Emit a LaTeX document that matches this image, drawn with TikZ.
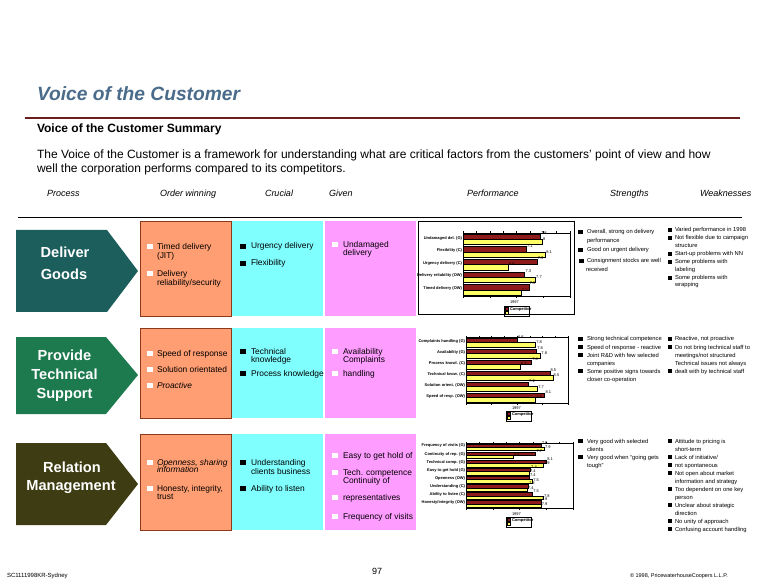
\documentclass[tikz,border=0pt]{standalone}
\usepackage{fontspec}
\setmainfont{Liberation Sans}
\definecolor{titleblue}{HTML}{4A6B8A}
\definecolor{rulered}{HTML}{6B1E1E}
\definecolor{orbox}{HTML}{FF9E72}
\definecolor{cybox}{HTML}{80FFFF}
\definecolor{pkbox}{HTML}{FF9CFF}
\definecolor{orline}{HTML}{8A3A1A}
\definecolor{pteal}{HTML}{1B5E5C}
\definecolor{pgreen}{HTML}{1C7A4E}
\definecolor{polive}{HTML}{3E3C12}
\definecolor{barred}{HTML}{8E1B1B}
\definecolor{baryel}{HTML}{FFFF66}
\newcommand\fsz[1]{\fontsize{#1}{#1}\selectfont}
\tikzset{
  every node/.style={inner sep=0pt, outer sep=0pt},
  tx/.style={anchor=base west, font=\fsz{8.4}},
  txi/.style={anchor=base west, font=\fsz{8.4}\itshape},
  hd/.style={anchor=base west, font=\fsz{9}\itshape},
  st/.style={anchor=base west, font=\fsz{5.8}},
  pt/.style={anchor=base, font=\fsz{14.6}\bfseries, text=white},
  wsq/.style={fill=white, minimum width=5.5, minimum height=5},
  bsq/.style={fill=black, minimum width=6, minimum height=5},
  ssq/.style={fill=black, minimum width=4.5, minimum height=4.5},
  clab/.style={anchor=east, font=\fsz{4}\bfseries},
  vlab/.style={anchor=south west, font=\fsz{4}},
  obox/.style={fill=orbox, draw=orline, line width=0.6},
  cbox/.style={fill=cybox},
  pbox/.style={fill=pkbox},
}
\newcommand\barchart[7]{%
  \pgfmathsetmacro\bcx{#2}%
  \pgfmathsetmacro\bcy{#3}%
  \pgfmathsetmacro\bcw{#4-#2}%
  \pgfmathsetmacro\bch{(#5-#3)/#6}%
  \draw[line width=0.5] (#2,#3) rectangle (#4,#5);
  \foreach \k in {0,0.125,...,1.01} \draw[line width=0.3] (\bcx+\k*\bcw,#3) -- ++(0,-1.5);
  \foreach \k in {0,0.25,...,1.01} \draw[line width=0.3] (\bcx+\k*\bcw,#5) -- ++(0,2);
  \foreach \lab/\dv/\yv/\dl/\yl [count=\i] in {#7} {
    \pgfmathsetmacro\ya{\bcy+(\i-1)*\bch+0.08*\bch}
    \pgfmathsetmacro\yb{\bcy+(\i-0.5)*\bch}
    \pgfmathsetmacro\yc{\bcy+\i*\bch-0.08*\bch}
    \filldraw[fill=barred,line width=0.25] (\bcx,\ya) rectangle (\bcx+\dv*\bcw,\yb);
    \filldraw[fill=baryel,line width=0.25] (\bcx,\yb) rectangle (\bcx+\yv*\bcw,\yc);
    \node[clab] (#1l\i) at (\bcx-1,\yb-1.2) {\lab};
    \node[vlab] (#1d\i) at (\bcx+\dv*\bcw+1,\ya+0.5) {\dl};
    \node[vlab] (#1y\i) at (\bcx+\yv*\bcw+1,\yb+1.5) {\yl};
  }
}
\newcommand\chartlegend[3]{%
  \node[vlab, anchor=base west] (#1yr) at (#2+6,#3-2) {1997};
  \draw[line width=0.4] (#2,#3) rectangle ++(25,10);
  \filldraw[fill=barred, line width=0.2] (#2+1.5,#3+1.5) rectangle ++(3,3);
  \node[font=\fsz{4}\bfseries, anchor=west] (#1comp) at (#2+6,#3+3) {Competitor};
  \filldraw[fill=baryel, line width=0.2] (#2+1.5,#3+5.5) rectangle ++(3,3);
}
\begin{document}
\begin{tikzpicture}[x=1pt,y=-1pt]
\useasboundingbox[fill=white] (0,0) rectangle (763,585);

% header
\node[anchor=base west, font=\fsz{19.2}\bfseries\itshape, text=titleblue] (title) at (37,101) {Voice of the Customer};
\draw[rulered, line width=2] (25,118) -- (740,118);
\node[anchor=base west, font=\fsz{12}\bfseries] (sub) at (37,133) {Voice of the Customer Summary};
\node[anchor=base west, font=\fsz{12}] (par1) at (37,159) {The Voice of the Customer is a framework for understanding what are critical factors from the customers' point of view and how};
\node[anchor=base west, font=\fsz{12}] (par2) at (37,173) {well the corporation performs compared to its competitors.};

\node[hd] (h1) at (47,197) {Process};
\node[hd] (h2) at (160,197) {Order winning};
\node[hd] (h3) at (265,197) {Crucial};
\node[hd] (h4) at (329,197) {Given};
\node[hd] (h5) at (467,197) {Performance};
\node[hd] (h6) at (610,197) {Strengths};
\node[hd] (h7) at (700,197) {Weaknesses};
\draw[line width=0.8] (18,217) -- (742,217);

% ---------- row 1 ----------
\fill[pteal] (16,230) -- (107,230) -- (138,271) -- (107,312) -- (16,312) -- cycle;
\node[pt] (p1a) at (65,258) {Deliver};
\node[pt] (p1b) at (64,280) {Goods};
\filldraw[obox] (140,221) rectangle (231,316);
\fill[cbox] (232,221) rectangle (323,316);
\fill[pbox] (325,221) rectangle (416,316);
\draw[line width=0.5] (418,221) rectangle (574,314);

\node[wsq] (o1ab) at (150,247) {};
\node[tx] (o1a) at (157,250) {Timed delivery};
\node[tx] (o1a2) at (157,259) {(JIT)};
\node[wsq] (o1bb) at (150,274) {};
\node[tx] (o1b) at (157,277) {Delivery};
\node[tx] (o1b2) at (157,286) {reliability/security};

\node[bsq] (c1ab) at (242.5,246.5) {};
\node[tx] (c1a) at (251,249) {Urgency delivery};
\node[bsq] (c1bb) at (242.5,263.5) {};
\node[tx] (c1b) at (251,266) {Flexibility};

\node[wsq] (g1ab) at (335,245) {};
\node[tx] (g1a) at (343,248) {Undamaged};
\node[tx] (g1a2) at (343,256) {delivery};

\barchart{ca}{463}{233}{570}{296}{5}{Undamaged del. (G)/.72/.74/7.8/8, Flexibility (C)/.59/.77/7.1/8.1, Urgency delivery (C)/.69/.42/7.9/6.6, Delivery reliability (OW)/.575/.675/7.3/7.7, Timed delivery (OW)/.615/.54/7.5/7.1}
\chartlegend{la}{504}{306}

\node[ssq] (s1ab) at (580.5,232) {};
\node[st] (s1a) at (587,234) {Overall, strong on delivery};
\node[st] (s1a2) at (587,243) {performance};
\node[ssq] (s1bb) at (580.5,250) {};
\node[st] (s1b) at (587,252) {Good on urgent delivery};
\node[ssq] (s1cb) at (581.5,261) {};
\node[st] (s1c) at (587,263) {Consignment stocks are well};
\node[st] (s1c2) at (586,272) {received};

\node[ssq] (w1ab) at (670,230) {};
\node[st] (w1a) at (675,232) {Varied performance in 1998};
\node[ssq] (w1bb) at (670,238) {};
\node[st] (w1b) at (675,240) {Not flexible due to campaign};
\node[st] (w1b2) at (675,248) {structure};
\node[ssq] (w1cb) at (670,254) {};
\node[st] (w1c) at (675,256) {Start-up problems with NN};
\node[ssq] (w1db) at (670,262) {};
\node[st] (w1d) at (675,264) {Some problems with};
\node[st] (w1d2) at (675,272) {labeling};
\node[ssq] (w1eb) at (670,278) {};
\node[st] (w1e) at (675,280) {Some problems with};
\node[st] (w1e2) at (675,287) {wrapping};

% ---------- row 2 ----------
\fill[pgreen] (16,337) -- (106,337) -- (138,375) -- (106,414) -- (16,414) -- cycle;
\node[pt] (p2a) at (64.5,360) {Provide};
\node[pt] (p2b) at (64.5,379) {Technical};
\node[pt] (p2c) at (64.5,398) {Support};
\filldraw[obox] (140,328) rectangle (231,418);
\fill[cbox] (232,328) rectangle (323,418);
\fill[pbox] (325,328) rectangle (416,418);

\node[wsq] (o2ab) at (150,353) {};
\node[tx] (o2a) at (157,356) {Speed of response};
\node[wsq] (o2bb) at (150,369) {};
\node[tx] (o2b) at (157,372) {Solution orientated};
\node[wsq] (o2cb) at (150,385) {};
\node[txi] (o2c) at (157,388) {Proactive};

\node[bsq] (c2ab) at (242.5,351) {};
\node[tx] (c2a) at (251,354) {Technical};
\node[tx] (c2a2) at (251,362) {knowledge};
\node[bsq] (c2bb) at (242.5,373) {};
\node[tx] (c2b) at (251,376) {Process knowledge};

\node[wsq] (g2ab) at (335,351) {};
\node[tx] (g2a) at (343,354) {Availability};
\node[tx] (g2a2) at (343,362) {Complaints};
\node[wsq] (g2bb) at (335,373) {};
\node[tx] (g2b) at (343,376) {handling};

\barchart{cb}{466}{337}{568}{403}{6}{Complaints handling (G)/.50/.68/6.6/7.8, Availability (G)/.69/.73/7.8/7.8, Process knowl. (C)/.64/.53/7.4/6.7, Technical know. (C)/.82/.85/8.5/8.5, Solution orient. (OW)/.61/.70/7.2/7.7, Speed of resp. (OW)/.77/.68/8.1/7.8}
\chartlegend{lb}{506}{411}

\node[ssq] (s2ab) at (580.5,339) {};
\node[st] (s2a) at (587,341) {Strong technical competence};
\node[ssq] (s2bb) at (580.5,347) {};
\node[st] (s2b) at (587,349) {Speed of response - reactive};
\node[ssq] (s2cb) at (580.5,355) {};
\node[st] (s2c) at (587,357) {Joint R\&D with few selected};
\node[st] (s2c2) at (587,365) {companies};
\node[ssq] (s2db) at (580.5,371) {};
\node[st] (s2d) at (587,373) {Some positive signs towards};
\node[st] (s2d2) at (587,381) {closer co-operation};

\node[ssq] (w2ab) at (670,339) {};
\node[st] (w2a) at (675,341) {Reactive, not proactive};
\node[ssq] (w2bb) at (670,347) {};
\node[st] (w2b) at (675,349) {Do not bring technical staff to};
\node[st] (w2b2) at (675,357) {meetings/not structured};
\node[st] (w2c) at (675,365) {Technical issues not always};
\node[ssq] (w2cb) at (670,371) {};
\node[st] (w2c2) at (675,373) {dealt with by technical staff};

% ---------- row 3 ----------
\fill[polive] (16,443) -- (106,443) -- (138,484) -- (106,525) -- (16,525) -- cycle;
\node[pt] (p3a) at (72,472) {Relation};
\node[pt] (p3b) at (71,490) {Management};
\filldraw[obox] (140,434) rectangle (231,530);
\fill[cbox] (232,434) rectangle (323,530);
\fill[pbox] (325,434) rectangle (416,530);

\node[wsq] (o3ab) at (150,462) {};
\node[txi] (o3a) at (157,465) {Openness, sharing};
\node[txi] (o3a2) at (157,472) {information};
\node[wsq] (o3bb) at (150,488) {};
\node[tx] (o3b) at (157,491) {Honesty, integrity,};
\node[tx] (o3b2) at (157,499) {trust};

\node[bsq] (c3ab) at (242.5,462) {};
\node[tx] (c3a) at (251,465) {Understanding};
\node[tx] (c3a2) at (251,474) {clients business};
\node[bsq] (c3bb) at (242.5,488) {};
\node[tx] (c3b) at (251,491) {Ability to listen};

\node[wsq] (g3ab) at (335,455) {};
\node[tx] (g3a) at (343,458) {Easy to get hold of};
\node[wsq] (g3bb) at (335,472) {};
\node[tx] (g3b) at (343,475) {Tech. competence};
\node[tx] (g3b2) at (343,483) {Continuity of};
\node[wsq] (g3cb) at (335,497) {};
\node[tx] (g3c) at (343,500) {representatives};
\node[wsq] (g3db) at (335,516) {};
\node[tx] (g3d) at (343,519) {Frequency of visits};

\barchart{cc}{466}{443}{573}{508}{8}{Frequency of visits (G)/.70/.73/7.9/7.9, Continuity of rep. (G)/.65/.44/7.7/6.6, Technical comp. (G)/.75/.72/8.1/7.9, Easy to get hold (G)/.60/.59/7.4/7.4, Openness (OW)/.59/.62/7.4/7.5, Understanding (C)/.58/.57/7.3/7.4, Ability to listen (C)/.62/.72/7.5/7.8, {Honesty/integrity (OW)}/.70/.70/7.9/7.9}
\chartlegend{lc}{506}{517}

\node[ssq] (s3ab) at (580.5,441) {};
\node[st] (s3a) at (587,443) {Very good with selected};
\node[st] (s3a2) at (587,451) {clients};
\node[ssq] (s3bb) at (580.5,457) {};
\node[st] (s3b) at (587,459) {Very good when ``going gets};
\node[st] (s3b2) at (587,467) {tough''};

\node[ssq] (w3ab) at (670,441) {};
\node[st] (w3a) at (675,443) {Attitude to pricing is};
\node[st] (w3a2) at (675,451) {short-term};
\node[ssq] (w3bb) at (670,457) {};
\node[st] (w3b) at (675,459) {Lack of initiative/};
\node[ssq] (w3cb) at (670,465) {};
\node[st] (w3c) at (675,467) {not spontaneous};
\node[ssq] (w3db) at (670,473) {};
\node[st] (w3d) at (675,475) {Not open about market};
\node[st] (w3d2) at (675,483) {information and strategy};
\node[ssq] (w3eb) at (670,489) {};
\node[st] (w3e) at (675,491) {Too dependent on one key};
\node[st] (w3e2) at (675,499) {person};
\node[ssq] (w3fb) at (670,505) {};
\node[st] (w3f) at (675,507) {Unclear about strategic};
\node[st] (w3f2) at (675,515) {direction};
\node[ssq] (w3gb) at (670,521) {};
\node[st] (w3g) at (675,523) {No unity of approach};
\node[ssq] (w3hb) at (670,529) {};
\node[st] (w3h) at (675,531) {Confusing account handling};

% footer
\node[anchor=base west, font=\fsz{6}] (f1) at (7,577) {SC1111998KR-Sydney};
\node[anchor=base west, font=\fsz{9}] (f2) at (372,574) {97};
\node[anchor=base west, font=\fsz{5.5}] (f3) at (630,577) {\textcopyright{} 1998, PricewaterhouseCoopers L.L.P.};
\end{tikzpicture}
\end{document}
